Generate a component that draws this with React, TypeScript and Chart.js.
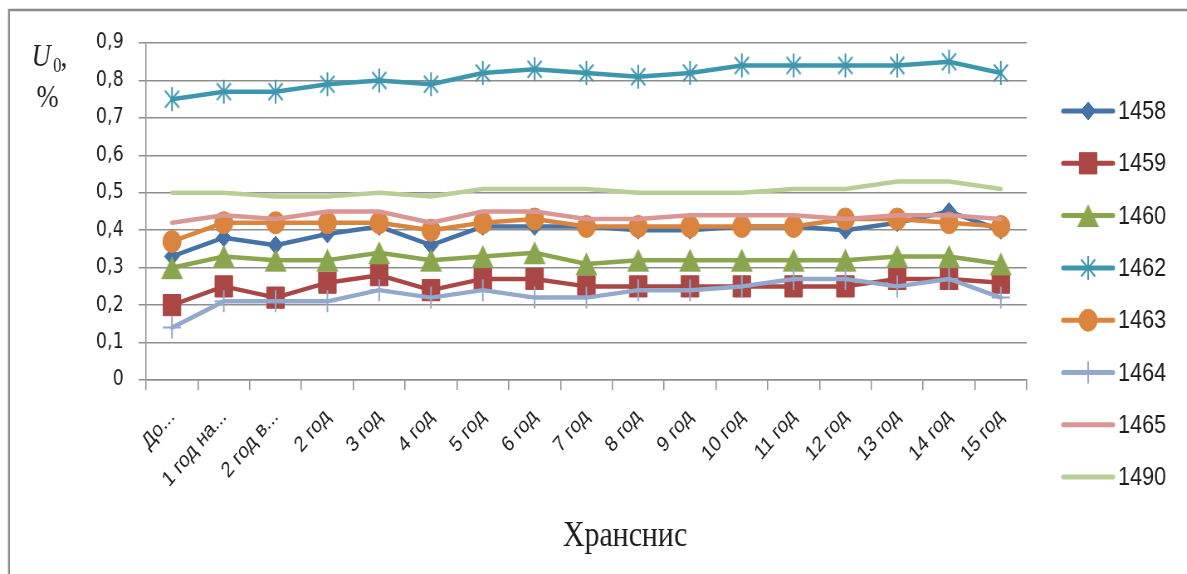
import { useEffect, useRef } from 'react';
import { Chart, registerables } from 'chart.js';
import { drawPoint } from 'chart.js/helpers';

Chart.register(...registerables);

// ---- data ----
const categories = [
  'До...', '1 год на...', '2 год в...', '2 год', '3 год', '4 год', '5 год', '6 год',
  '7 год', '8 год', '9 год', '10 год', '11 год', '12 год', '13 год', '14 год', '15 год',
];

const s1458 = [0.33, 0.38, 0.36, 0.39, 0.41, 0.36, 0.41, 0.41, 0.41, 0.40, 0.40, 0.41, 0.41, 0.40, 0.42, 0.45, 0.40];
const s1459 = [0.20, 0.25, 0.22, 0.26, 0.28, 0.24, 0.27, 0.27, 0.25, 0.25, 0.25, 0.25, 0.25, 0.25, 0.27, 0.27, 0.26];
const s1460 = [0.30, 0.33, 0.32, 0.32, 0.34, 0.32, 0.33, 0.34, 0.31, 0.32, 0.32, 0.32, 0.32, 0.32, 0.33, 0.33, 0.31];
const s1462 = [0.75, 0.77, 0.77, 0.79, 0.80, 0.79, 0.82, 0.83, 0.82, 0.81, 0.82, 0.84, 0.84, 0.84, 0.84, 0.85, 0.82];
const s1463 = [0.37, 0.42, 0.42, 0.42, 0.42, 0.40, 0.42, 0.43, 0.41, 0.41, 0.41, 0.41, 0.41, 0.43, 0.43, 0.42, 0.41];
const s1464 = [0.14, 0.21, 0.21, 0.21, 0.24, 0.22, 0.24, 0.22, 0.22, 0.24, 0.24, 0.25, 0.27, 0.27, 0.25, 0.27, 0.22];
const s1465 = [0.42, 0.44, 0.43, 0.45, 0.45, 0.42, 0.45, 0.45, 0.43, 0.43, 0.44, 0.44, 0.44, 0.43, 0.44, 0.44, 0.43];
const s1490 = [0.50, 0.50, 0.49, 0.49, 0.50, 0.49, 0.51, 0.51, 0.51, 0.50, 0.50, 0.50, 0.51, 0.51, 0.53, 0.53, 0.51];

const seriesNames = ['1458', '1459', '1460', '1462', '1463', '1464', '1465', '1490'];
const seriesValues = [s1458, s1459, s1460, s1462, s1463, s1464, s1465, s1490];

const yTicks = [0, 0.1, 0.2, 0.3, 0.4, 0.5, 0.6, 0.7, 0.8, 0.9];
const xTitle = 'Хранснис';

// ---- look ----
const PAGE_W = 1187;
const PAGE_H = 574;
const SQUEEZE = 0.83; // the whole figure is drawn horizontally condensed
const CANVAS_W = Math.round(PAGE_W / SQUEEZE);

const PLOT_LEFT = 176;
const PLOT_RIGHT = 1237;
const PLOT_TOP = 43;
const PLOT_BOTTOM = 380;

const SANS = '"Liberation Sans", Arial, sans-serif';
const WIDE_SANS = '"DejaVu Sans", Verdana, sans-serif';
const SERIF = '"Liberation Serif", "Times New Roman", serif';
const GRID = '#8e8e8e';
const TEXT = '#1c1c1c';

const colors = ['#4572A7', '#AA4643', '#89A54E', '#3D96AE', '#DB843D', '#92A8CD', '#D99694', '#B8CE95'];

function makeAsterisk(color: string, r: number): HTMLCanvasElement {
  const size = Math.ceil(r * 2 + 4);
  const c = document.createElement('canvas');
  c.width = size;
  c.height = size;
  const g = c.getContext('2d')!;
  const m = size / 2;
  g.strokeStyle = color;
  g.lineWidth = 2;
  g.beginPath();
  g.moveTo(m, m - r);
  g.lineTo(m, m + r);
  const d = r * Math.SQRT1_2;
  g.moveTo(m - d, m - d);
  g.lineTo(m + d, m + d);
  g.moveTo(m - d, m + d);
  g.lineTo(m + d, m - d);
  g.stroke();
  return c;
}

// triangle whose bounding box (not its circumcentre) sits on the data point
function makeTriangle(color: string, h: number): HTMLCanvasElement {
  const w = h * 1.15;
  const c = document.createElement('canvas');
  c.width = Math.ceil(w + 2);
  c.height = Math.ceil(h + 2);
  const g = c.getContext('2d')!;
  g.fillStyle = color;
  g.beginPath();
  g.moveTo(c.width / 2, 1);
  g.lineTo(c.width / 2 + w / 2, 1 + h);
  g.lineTo(c.width / 2 - w / 2, 1 + h);
  g.closePath();
  g.fill();
  return c;
}

type Marker = { style: any; radius: number; borderWidth: number };

function markersFor(): Marker[] {
  return [
    { style: 'rectRot', radius: 9, borderWidth: 1 },
    { style: 'rect', radius: 15, borderWidth: 1 },
    { style: makeTriangle(colors[2], 23), radius: 12, borderWidth: 0 },
    { style: makeAsterisk(colors[3], 12), radius: 12, borderWidth: 0 },
    { style: 'circle', radius: 11, borderWidth: 1 },
    { style: 'cross', radius: 11, borderWidth: 2 },
    { style: false, radius: 0, borderWidth: 0 },
    { style: false, radius: 0, borderWidth: 0 },
  ];
}

export default function App() {
  const ref = useRef<HTMLCanvasElement | null>(null);

  useEffect(() => {
    const canvas = ref.current;
    if (!canvas) return;
    const markers = markersFor();

    const decorations = {
      id: 'decorations',
      afterDraw(chart: any) {
        const ctx = chart.ctx as CanvasRenderingContext2D;
        ctx.save();

        // frame (top and left edges)
        ctx.strokeStyle = '#8a8a8a';
        ctx.lineWidth = 2.4;
        ctx.beginPath();
        ctx.moveTo(10.8, PAGE_H + 2);
        ctx.lineTo(10.8, 10);
        ctx.lineTo(CANVAS_W + 2, 10);
        ctx.stroke();

        // y-axis title: U0, %
        ctx.fillStyle = TEXT;
        ctx.textAlign = 'left';
        ctx.textBaseline = 'alphabetic';
        ctx.font = `italic 32px ${SERIF}`;
        ctx.fillText('U', 38, 66);
        ctx.font = `20px ${SERIF}`;
        ctx.fillText('0', 64, 72);
        ctx.font = `32px ${SERIF}`;
        ctx.fillText(',', 73, 66);
        ctx.fillText('%', 44, 107);

        // x-axis title
        ctx.font = `36px ${SERIF}`;
        ctx.textAlign = 'center';
        ctx.fillText(xTitle, 753, 546);

        // legend
        const x0 = 1281;
        const x1 = 1341;
        seriesNames.forEach((name, i) => {
          const y = 111 + 52.3 * i;
          ctx.strokeStyle = colors[i];
          ctx.lineWidth = 5;
          ctx.lineCap = 'round';
          ctx.beginPath();
          ctx.moveTo(x0, y);
          ctx.lineTo(x1, y);
          ctx.stroke();
          const mk = markers[i];
          if (mk.style) {
            ctx.fillStyle = colors[i];
            ctx.strokeStyle = colors[i];
            ctx.lineWidth = mk.borderWidth || 1;
            ctx.lineCap = 'butt';
            drawPoint(ctx, { pointStyle: mk.style, radius: mk.radius, rotation: 0, borderWidth: mk.borderWidth }, (x0 + x1) / 2, y);
          }
          ctx.fillStyle = TEXT;
          ctx.font = `26px ${SANS}`;
          ctx.textAlign = 'left';
          ctx.textBaseline = 'middle';
          ctx.fillText(name, 1347, y + 1);
        });

        ctx.restore();
      },
    };

    const chart = new Chart(canvas, {
      type: 'line',
      data: {
        labels: categories,
        datasets: seriesNames.map((name, i) => ({
          label: name,
          data: seriesValues[i],
          borderColor: colors[i],
          backgroundColor: colors[i],
          borderWidth: 4.5,
          borderJoinStyle: 'round',
          borderCapStyle: 'round',
          tension: 0,
          fill: false,
          order: seriesNames.length - i,
          pointStyle: markers[i].style,
          pointRadius: markers[i].radius,
          pointHoverRadius: markers[i].radius,
          pointBackgroundColor: colors[i],
          pointBorderColor: colors[i],
          pointBorderWidth: markers[i].borderWidth,
        })),
      },
      options: {
        responsive: false,
        animation: false,
        devicePixelRatio: 1,
        layout: {
          padding: { left: 0, right: CANVAS_W - PLOT_RIGHT, top: PLOT_TOP, bottom: 0 },
        },
        plugins: {
          legend: { display: false },
          tooltip: { enabled: false },
          title: { display: false },
        },
        scales: {
          x: {
            type: 'category',
            offset: true,
            grid: {
              offset: true,
              drawOnChartArea: false,
              drawTicks: true,
              tickLength: 10,
              color: GRID,
              lineWidth: 1.5,
            },
            border: { display: true, color: GRID, width: 1.5 },
            ticks: {
              autoSkip: false,
              minRotation: 45,
              maxRotation: 45,
              padding: 14,
              color: TEXT,
              font: { family: SANS, size: 22 },
            },
            afterFit(scale: any) {
              scale.height = PAGE_H - PLOT_BOTTOM;
            },
          },
          y: {
            min: 0,
            max: 0.9,
            afterBuildTicks(scale: any) {
              scale.ticks = yTicks.map((v) => ({ value: v }));
            },
            grid: {
              color: GRID,
              lineWidth: 1.5,
              tickLength: 9,
            },
            border: { display: true, color: GRID, width: 1.5 },
            ticks: {
              padding: 18,
              color: TEXT,
              font: { family: WIDE_SANS, size: 21 },
              callback: (v: any) => (v === 0 ? '0' : Number(v).toFixed(1).replace('.', ',')),
            },
            afterFit(scale: any) {
              scale.width = PLOT_LEFT;
            },
          },
        },
      },
      plugins: [decorations],
    } as any);

    return () => chart.destroy();
  }, []);

  return (
    <div
      style={{
        position: 'fixed',
        left: 0,
        top: 0,
        width: PAGE_W,
        height: PAGE_H,
        overflow: 'hidden',
        background: '#ffffff',
      }}
    >
      <canvas
        ref={ref}
        width={CANVAS_W}
        height={PAGE_H}
        style={{
          width: CANVAS_W,
          height: PAGE_H,
          transform: `scaleX(${SQUEEZE})`,
          transformOrigin: '0 0',
          display: 'block',
        }}
      />
    </div>
  );
}
